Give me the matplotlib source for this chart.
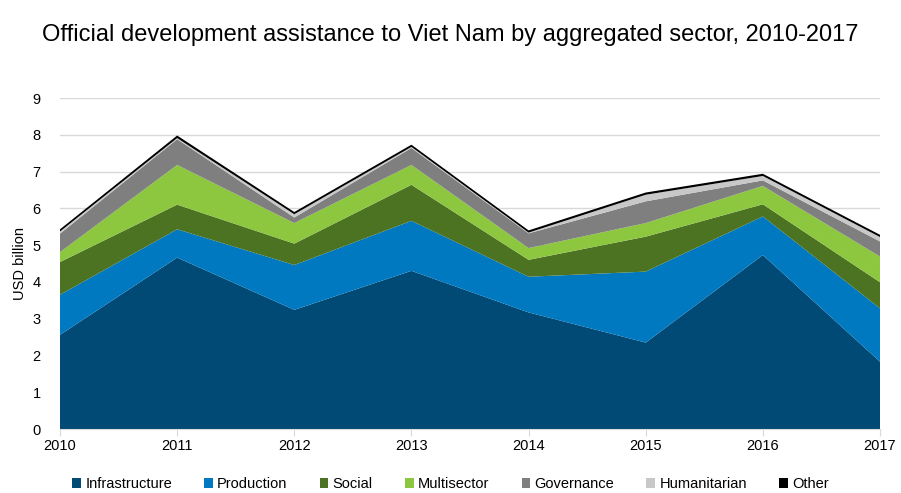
import numpy as np
import matplotlib
matplotlib.use("Agg")
import matplotlib.pyplot as plt
from matplotlib.patches import Patch

plt.rcParams['font.family'] = ['Liberation Sans', 'DejaVu Sans']

years = [2010, 2011, 2012, 2013, 2014, 2015, 2016, 2017]
sectors = ["Infrastructure", "Production", "Social", "Multisector",
           "Governance", "Humanitarian", "Other"]

# USD billion
infrastructure = [2.56, 4.66, 3.24, 4.30, 3.17, 2.35, 4.73, 1.83]
production     = [1.09, 0.77, 1.22, 1.36, 0.97, 1.93, 1.05, 1.45]
social         = [0.89, 0.67, 0.58, 0.98, 0.46, 0.95, 0.33, 0.71]
multisector    = [0.27, 1.08, 0.56, 0.54, 0.32, 0.37, 0.50, 0.70]
governance     = [0.50, 0.70, 0.15, 0.46, 0.40, 0.59, 0.15, 0.41]
humanitarian   = [0.06, 0.03, 0.09, 0.03, 0.02, 0.18, 0.12, 0.12]
other          = [0.06, 0.07, 0.06, 0.06, 0.06, 0.06, 0.06, 0.06]

colors = ["#004a75", "#0079c1", "#4b7322", "#8dc63f",
          "#7f7f7f", "#c8c8c8", "#000000"]

fig = plt.figure(figsize=(9.01, 4.93), dpi=100)
ax = fig.add_axes([0.0666, 0.1298, 0.9101, 0.6714])

ax.stackplot(years, infrastructure, production, social, multisector,
             governance, humanitarian, other, colors=colors, linewidth=0)

ax.set_xlim(2010, 2017)
ax.set_ylim(0, 9)
ax.set_yticks(range(0, 10))
ax.set_xticks(years)
ax.grid(axis='y', color='#d9d9d9', linewidth=1)
ax.set_axisbelow(True)
for s in ['top', 'right', 'left']:
    ax.spines[s].set_visible(False)
ax.spines['bottom'].set_color('#d9d9d9')
ax.tick_params(axis='y', length=0, labelsize=10.5, pad=14)
ax.tick_params(axis='x', length=5, color='#d9d9d9', labelsize=10.5, pad=2)
ax.set_ylabel("USD billion", fontsize=10.5, labelpad=4)

fig.text(0.5, 0.93, "Official development assistance to Viet Nam by aggregated sector, 2010-2017",
         ha='center', va='center', fontsize=17)

handles = [Patch(facecolor=c, label=l) for c, l in zip(colors, sectors)]
fig.legend(handles=handles, loc='center', bbox_to_anchor=(0.5, 0.018), ncol=7,
           frameon=False, fontsize=10.5, handlelength=0.6, handleheight=0.6,
           handletextpad=0.3, columnspacing=2.2)

fig.savefig("out.png", dpi=100)
